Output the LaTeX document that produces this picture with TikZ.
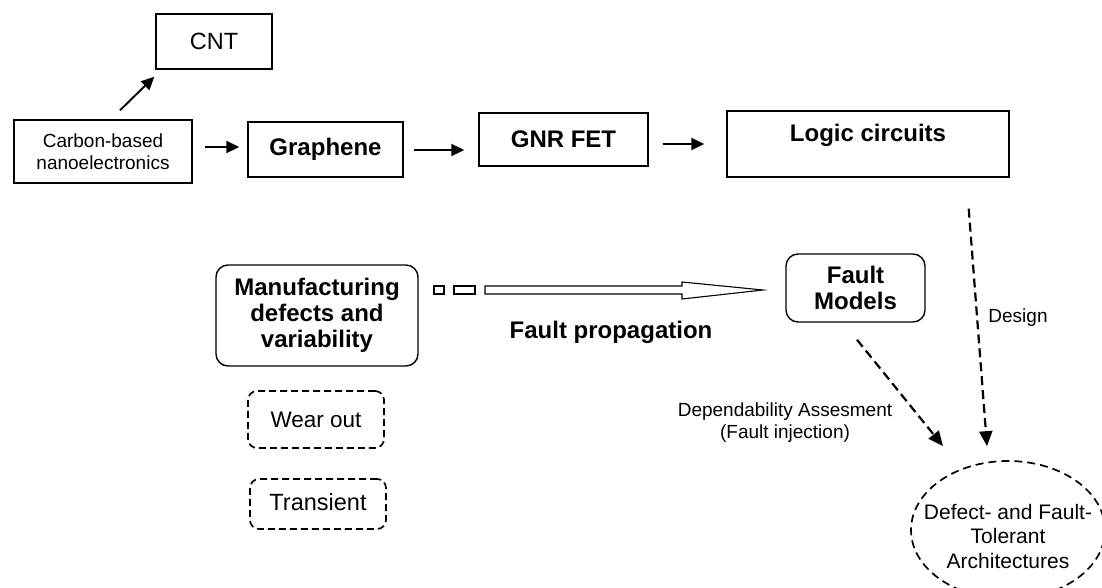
\documentclass[tikz,border=0pt]{standalone}
\usepackage{fontspec}
\setmainfont{Liberation Sans}
\usetikzlibrary{arrows.meta,calc,shapes.geometric}
\tikzset{
  box/.style={draw,line width=1.4pt,inner sep=0pt,align=center},
  rbox/.style={box,rounded corners=12pt},
  dbox/.style={box,line width=1.7pt,rounded corners=9pt,dash pattern=on 7pt off 4pt},
  bigbold/.style={font=\fontsize{24}{26}\selectfont\bfseries},
  reg/.style={font=\fontsize{23.5}{26}\selectfont},
  small/.style={font=\fontsize{19}{22}\selectfont},
  arr/.style={line width=1.9pt,-{Triangle[length=13pt,width=12pt]}},
  darr/.style={line width=2.2pt,dash pattern=on 9pt off 5pt,-{Triangle[length=15pt,width=13pt]}},
}
\begin{document}
\begin{tikzpicture}[x=1pt,y=-1pt]
\useasboundingbox (0,0) rectangle (1102,588);
% nodes
\node[box,reg,minimum width=116pt,minimum height=55pt] (cnt) at (214,41.5) {CNT};
\node[box,small,minimum width=178pt,minimum height=63pt] (carbon) at (103,151.5) {Carbon-based\\nanoelectronics};
\node[box,bigbold,minimum width=155pt,minimum height=55pt] (graphene) at (325.5,149.5) {Graphene};
\node[box,bigbold,minimum width=169pt,minimum height=53pt] (gnr) at (563.5,139.5) {GNR FET};
\node[box,minimum width=282pt,minimum height=66pt] (logic) at (868,144) {};
\node[bigbold] (logictext) at (868,135) {Logic circuits};
\node[rbox,bigbold,minimum width=202pt,minimum height=101pt] (manuf) at (317,315.5) {Manufacturing\\defects and\\variability};
\node[rbox,bigbold,minimum width=139pt,minimum height=68pt] (fm) at (855.5,288) {Fault\\Models};
\node[dbox,font=\fontsize{22.5}{26}\selectfont,minimum width=136pt,minimum height=57pt] (wear) at (316,419.5) {Wear out};
\node[dbox,reg,minimum width=136pt,minimum height=50pt] (trans) at (318,504) {\raisebox{5pt}{Transient}};
\node[draw,ellipse,line width=1.7pt,dash pattern=on 8pt off 5pt,inner sep=0pt,
      minimum width=194pt,minimum height=138pt] (ell) at (1008,530) {};
\node[align=center,font=\fontsize{21}{24.5}\selectfont] (elltext) at (1008,536)
      {Defect- and Fault-\\Tolerant\\Architectures};
% connectors
\draw[arr] ($(carbon.north)+(17,-9)$) -- ($(cnt.south west)+(-1,7)$);
\draw[arr] ($(carbon.east)+(12,-4.5)$) -- ($(graphene.west)+(-8,-2.5)$);
\draw[arr] ($(graphene.east)+(10,0.5)$) -- ($(gnr.west)+(-14,10.5)$);
\draw[arr] ($(gnr.east)+(14,4.5)$) -- ($(logic.west)+(-22,0)$);
\draw[darr] ($(logic.south east)+(-41,31)$) -- ($(ell.north)+(-21,-14)$);
\node[small] (design) at (1018,318) {Design};
\draw[darr] ($(fm.south)+(1.5,17)$) -- ($(ell.north)+(-65,-14)$);
\node[small,align=center] (dep) at (785,423) {Dependability Assesment\\(Fault injection)};
% hollow propagation arrow
\draw[line width=1.1pt] (434,286) rectangle (444,294);
\draw[line width=1.1pt] (454,286) rectangle (475,294);
\draw[line width=1.1pt,line join=miter] (485,286) -- (682,286) -- (682,282) -- (763,290) -- (682,299) -- (682,294) -- (485,294) -- cycle;
\node[bigbold] (prop) at (611,332) {Fault propagation};
\end{tikzpicture}
\end{document}
